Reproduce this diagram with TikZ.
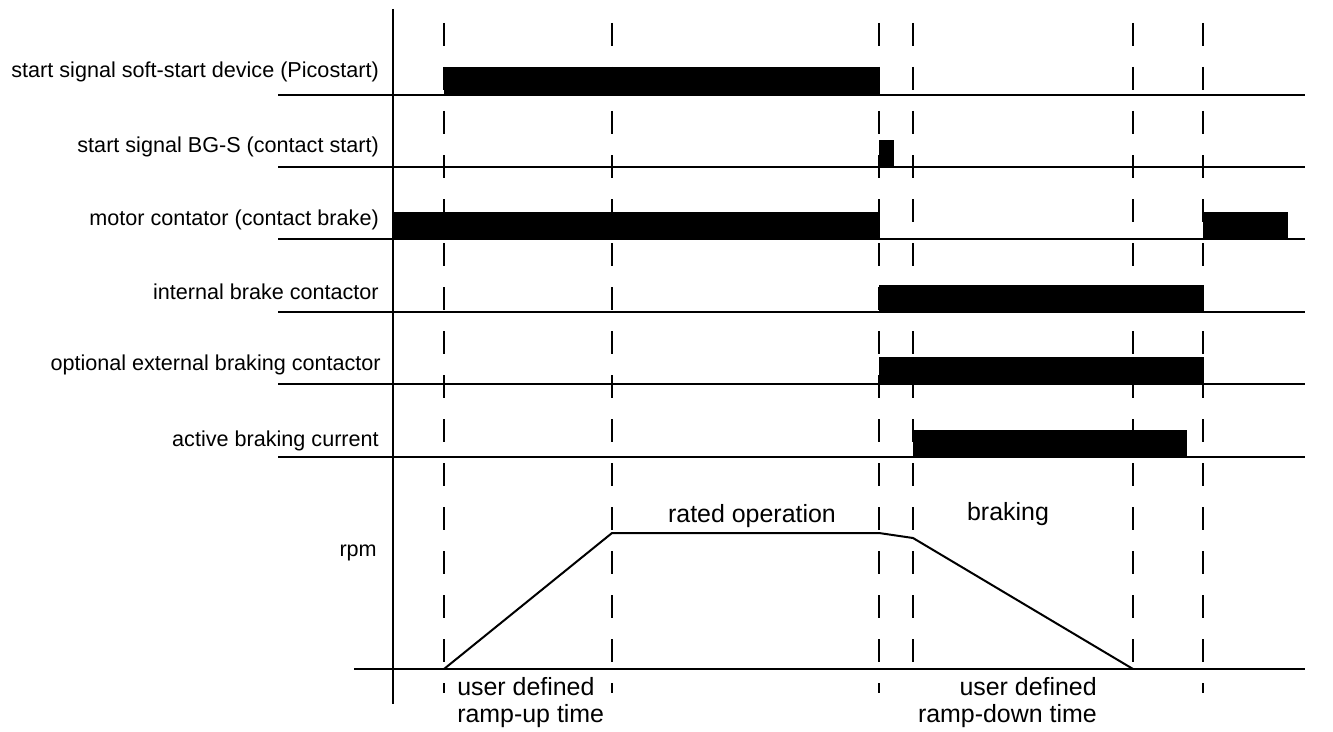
\documentclass[tikz,border=0pt]{standalone}
\usepackage{fontspec}
\setmainfont{Liberation Sans}
\begin{document}
\begin{tikzpicture}[x=0.75pt,y=-0.75pt,
  rowline/.style={line width=1.5pt},
  axisline/.style={line width=1.5pt},
  tline/.style={line width=1.7pt,dash pattern=on 17.6pt off 15.4pt},
  bar/.style={fill=black,draw=black,line width=0.5pt},
  rowlabel/.style={anchor=base east,inner sep=0pt,font=\fontsize{16.2pt}{19pt}\selectfont},
  biglabel/.style={inner sep=0pt,font=\fontsize{18.7pt}{22pt}\selectfont},
  curve/.style={line width=1.5pt,line join=round}]
\useasboundingbox (0,0) rectangle (1333,731);
% dashed time markers
\foreach \x in {444,612,879,1203} \draw[tline] (\x,23) -- (\x,693);
\foreach \x in {913,1133} \draw[tline] (\x,23) -- (\x,669);
% axes
\draw[axisline] (393,9) -- (393,704);
\draw[axisline] (354,669) -- (1305,669);
% row lines
\foreach \y in {95,166.5,239,311.5,384,456.5} \draw[rowline] (278,\y) -- (1305,\y);
% bars
\fill[bar] (444,67) rectangle (879,95);
\fill[bar] (879,140) rectangle (893,166.5);
\fill[bar] (393,212) rectangle (879,239);
\fill[bar] (1203,212) rectangle (1287,239);
\fill[bar] (879,285) rectangle (1203,311.5);
\fill[bar] (879,357) rectangle (1203,384);
\fill[bar] (913,430) rectangle (1186,456.5);
% rpm curve
\coordinate (r0) at (444,669);
\coordinate (r1) at (612,533);
\coordinate (r2) at (879,533);
\coordinate (r3) at (913,538);
\coordinate (r4) at (1133,669);
\draw[curve] (r0) -- (r1) -- (r2) -- (r3) -- (r4);
% row labels
\node[rowlabel] (l1) at (379,78) {start signal soft-start device (Picostart)};
\node[rowlabel] (l2) at (379,152) {start signal BG-S (contact start)};
\node[rowlabel] (l3) at (379,225) {motor contator (contact brake)};
\node[rowlabel] (l4) at (379,299) {internal brake contactor};
\node[rowlabel] (l5) at (381,370) {optional external braking contactor};
\node[rowlabel] (l6) at (379,446) {active braking current};
\node[rowlabel] (lrpm) at (377,556) {rpm};
% phase labels
\node[biglabel,anchor=base] (rated) at (752,522) {rated operation};
\node[biglabel,anchor=base] (braking) at (1008,520) {braking};
\node[biglabel,anchor=base west] (up1) at (457,695) {user defined};
\node[biglabel,anchor=base west] (up2) at (457,722) {ramp-up time};
\node[biglabel,anchor=base east] (dn1) at (1097,695) {user defined};
\node[biglabel,anchor=base east] (dn2) at (1097,722) {ramp-down time};
\end{tikzpicture}
\end{document}
